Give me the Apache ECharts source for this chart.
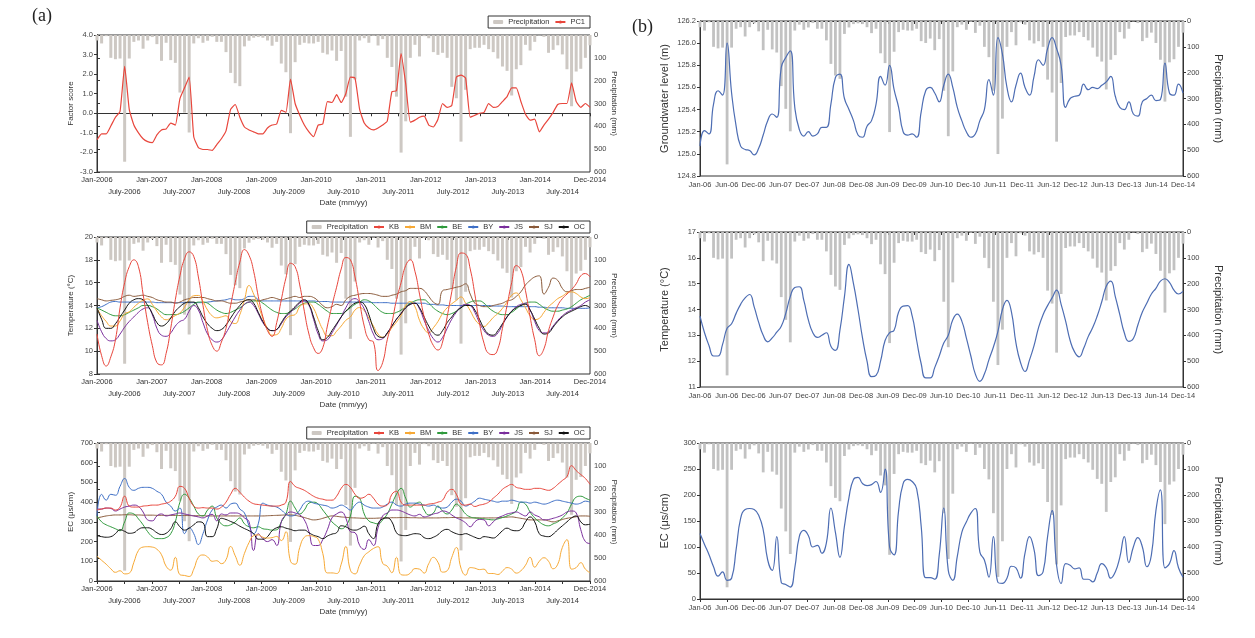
<!DOCTYPE html>
<html><head><meta charset="utf-8">
<script src="https://cdn.jsdelivr.net/npm/echarts@6/dist/echarts.min.js"></script>
<style>html,body{margin:0;padding:0;background:#fff}#c{width:1255px;height:638px}</style>
</head><body><div id="c"></div>
<script>
// ---------- DATA (monthly, Jan-2006 .. Dec-2014) ----------
const precip = [
 24, 37, 5, 100, 106, 103, 555, 103, 30, 24, 60, 24,
 9, 40, 113, 34, 110, 122, 252, 340, 427, 37, 14, 34,
 25, 8, 30, 30, 75, 166, 211, 224, 50, 25, 12, 9,
 12, 24, 47, 30, 125, 163, 430, 119, 43, 34, 37, 37,
 30, 78, 85, 68, 113, 70, 270, 446, 195, 24, 14, 34,
 3, 46, 18, 100, 140, 270, 515, 378, 100, 43, 94, 5,
 14, 75, 87, 78, 100, 227, 277, 467, 240, 62, 56, 56,
 43, 62, 75, 103, 138, 157, 265, 150, 132, 43, 68, 30,
 2, 8, 78, 65, 45, 85, 150, 312, 160, 148, 100, 45];

const pc1 = [
 -1.35, -1.05, -1.05, -0.65, -0.2, 0.1, 2.4, 0.2, -0.6, -1.0, -1.3, -1.45,
 -1.5, -1.1, -0.85, -0.8, -0.5, -0.6, 0.75, 1.3, 1.85, -1.2, -1.75, -1.85,
 -1.85, -1.9, -1.6, -1.3, -0.9, 0.2, 0.45, -0.2, -0.7, -0.85, -0.95, -1.05,
 -1.05, -0.75, -0.6, -0.55, 0.15, 0.05, 1.75, 0.5, -0.1, -0.6, -0.95, -1.2,
 -0.6, -0.55, 0.6, 0.55, 0.95, 0.55, 1.0, 1.85, 1.8, 0.2, -0.5, -0.75,
 -0.85, -0.75, -0.6, -0.4, 1.1, 1.15, 3.05, 1.5, -0.45, -0.35, -0.2, -0.15,
 -0.6, -0.7, -0.3, 0.5, 0.3, 0.4, 1.85, 1.95, 1.8, -0.2, -0.1, 0.0,
 0.05, 0.5, 0.3, 0.35, 0.6, 0.85, 1.3, 1.3, 0.6, -0.05, -0.35, -0.3,
 -0.95, -0.6, -0.3, 0.05, 0.45, 0.5, 0.5, 1.55, 0.6, 0.3, 0.5, 0.3];

const gwLevel = [
 125.07, 125.21, 125.18, 125.45, 125.57, 125.53, 126.0, 125.55, 125.25, 125.07, 125.04, 125.03,
 124.99, 125.05, 125.17, 125.3, 125.36, 125.33, 125.78, 125.87, 125.93, 125.42, 125.22, 125.16,
 125.2, 125.16, 125.18, 125.24, 125.24, 125.45, 125.69, 125.72, 125.5, 125.4, 125.3, 125.17,
 125.15, 125.25, 125.3, 125.45, 125.7, 125.62, 125.8, 125.58, 125.42, 125.2, 125.17, 125.18,
 125.15, 125.38, 125.57, 125.6, 125.55, 125.47, 125.62, 125.72, 125.6, 125.42, 125.3, 125.2,
 125.15, 125.18, 125.3, 125.4, 125.67, 125.53, 126.05, 125.9, 125.6, 125.47, 125.62, 125.73,
 125.6, 125.53, 125.7, 125.85, 125.8, 125.95, 126.05, 125.95, 125.8, 125.42, 125.5, 125.52,
 125.53, 125.63, 125.58, 125.6, 125.59, 125.62, 125.65, 125.7, 125.52, 125.42, 125.4, 125.47,
 125.36, 125.34, 125.47, 125.5, 125.53, 125.48, 125.49, 125.82, 125.55, 125.53, 125.63, 125.55];

// Temperature (deg C)
const tempKB = [
 11.5, 9.6, 8.7, 9.5, 11.0, 13.8, 16.0, 17.4, 18.0, 17.4, 15.0, 12.5,
 10.5, 9.0, 8.8, 9.8, 12.0, 14.5, 16.6, 18.1, 18.7, 18.3, 16.5, 14.0,
 11.8, 10.5, 10.0, 10.8, 12.0, 14.0, 16.0, 17.8, 18.9, 18.4, 17.0, 14.8,
 13.0, 11.8, 11.3, 12.5, 14.5, 16.4, 17.7, 17.4, 15.8, 13.5, 11.5, 10.3,
 9.8, 10.3, 12.2, 14.0, 15.6, 17.2, 18.2, 18.0, 16.5, 14.3, 12.2, 11.0,
 10.8, 8.3, 9.0, 11.0, 12.5, 14.5, 16.0, 17.5, 18.0, 17.0, 15.0, 13.0,
 11.5, 10.5, 10.1, 10.8, 13.0, 15.2, 17.4, 18.6, 18.5, 17.2, 15.0, 12.5,
 10.7, 9.8, 9.7, 10.2, 12.0, 14.0, 16.0, 17.5, 17.1, 15.3, 13.0, 11.0,
 9.6, 10.2, 11.8, 13.0, 14.0, 14.6, 15.0, 15.4, 15.9, 16.6, 16.8, 16.5];
const tempBM = [
 13.74, 13.1, 12.6, 12.2, 12.2, 12.65, 13.27, 13.45, 13.85, 14.2, 14.45, 14.58,
 14.1, 13.5, 13.0, 12.75, 12.9, 13.12, 13.35, 13.85, 14.5, 14.85, 14.88, 14.35,
 13.6, 13.1, 12.92, 13.0, 13.1, 12.58, 12.42, 13.2, 14.5, 15.75, 15.0, 14.0,
 12.9, 12.0, 11.4, 11.45, 12.0, 12.8, 13.1, 13.2, 13.9, 14.13, 14.15, 13.75,
 12.8, 11.9, 11.35, 11.35, 11.75, 12.2, 12.7, 13.0, 13.6, 13.82, 13.55, 12.9,
 12.2, 11.5, 11.22, 11.5, 12.05, 12.55, 13.15, 14.0, 14.35, 13.9, 12.7, 11.95,
 11.6, 12.05, 12.6, 13.3, 13.8, 14.15, 14.45, 14.75, 14.2, 13.55, 12.8, 12.35,
 12.17, 12.5, 12.95, 13.3, 13.75, 14.3, 14.9, 15.1, 14.5, 13.8, 13.1, 12.77,
 12.88, 13.4, 13.9, 14.25, 14.6, 14.82, 15.1, 15.19, 15.05, 14.75, 14.6, 14.7];
const tempBE = [
 13.8, 13.6, 13.4, 13.2, 13.1, 13.1, 13.2, 13.4, 13.6, 13.8, 14.0, 14.0,
 13.9, 13.7, 13.4, 13.2, 13.2, 13.2, 13.3, 13.5, 13.8, 14.1, 14.3, 14.3,
 14.2, 13.9, 13.6, 13.4, 13.3, 13.4, 13.6, 13.8, 14.1, 14.3, 14.4, 14.4,
 14.2, 13.9, 13.6, 13.4, 13.3, 13.3, 13.5, 13.7, 14.0, 14.2, 14.3, 14.3,
 14.1, 13.8, 13.5, 13.3, 13.3, 13.3, 13.5, 13.8, 14.1, 14.3, 14.5, 14.4,
 14.1, 13.7, 13.4, 13.3, 13.3, 13.4, 13.6, 13.9, 14.2, 14.4, 14.5, 14.5,
 14.2, 13.8, 13.5, 13.3, 13.2, 13.3, 13.5, 13.8, 14.1, 14.3, 14.4, 14.4,
 14.2, 13.8, 13.5, 13.3, 13.2, 13.2, 13.4, 13.7, 14.0, 14.2, 14.3, 14.3,
 14.1, 13.8, 13.6, 13.5, 13.5, 13.6, 13.7, 13.9, 14.2, 14.5, 14.7, 14.9];
const tempBY = [
 13.8, 13.9, 14.1, 14.3, 14.35, 14.3, 14.3, 14.3, 14.3, 14.3, 14.3, 14.3,
 14.3, 14.25, 14.25, 14.25, 14.25, 14.25, 14.25, 14.25, 14.25, 14.25, 14.25, 14.25,
 14.3, 14.35, 14.4, 14.45, 14.5, 14.6, 14.5, 14.5, 14.6, 14.8, 14.8, 14.5,
 14.4, 14.4, 14.4, 14.4, 14.4, 14.4, 14.4, 14.4, 14.4, 14.4, 14.4, 14.4,
 14.35, 14.35, 14.35, 14.3, 14.3, 14.3, 14.3, 14.3, 14.3, 14.3, 14.3, 14.3,
 14.25, 14.25, 14.25, 14.25, 14.2, 14.2, 14.2, 14.2, 14.2, 14.2, 14.2, 14.2,
 14.1, 14.1, 14.05, 14.05, 14.0, 14.0, 14.0, 14.0, 14.0, 14.0, 14.0, 14.0,
 14.0, 14.0, 13.95, 13.95, 13.95, 13.9, 13.9, 13.9, 13.9, 13.9, 13.9, 13.9,
 13.85, 13.85, 13.8, 13.8, 13.8, 13.8, 13.75, 13.75, 13.75, 13.75, 13.75, 13.8];
const tempJS = [
 12.7, 11.7, 11.1, 10.9, 11.0, 11.5, 12.1, 12.6, 13.0, 13.4, 13.7, 13.8,
 13.2, 12.0, 11.4, 11.3, 11.6, 12.2, 12.6, 12.8, 13.5, 14.0, 13.6, 12.5,
 11.5, 11.0, 10.8, 11.0, 11.6, 12.3, 13.0, 13.6, 14.1, 14.3, 14.0, 13.3,
 12.5, 12.0, 11.8, 11.9, 12.4, 13.0, 13.4, 13.8, 14.2, 14.4, 14.0, 12.8,
 11.5, 10.9, 11.0, 11.6, 12.3, 13.0, 13.8, 14.4, 14.6, 14.3, 13.7, 12.6,
 11.5, 11.0, 11.1, 11.6, 12.2, 12.8, 13.3, 13.8, 14.1, 14.2, 13.7, 12.7,
 11.8, 11.1, 10.8, 11.2, 12.0, 12.8, 13.4, 13.9, 14.1, 14.0, 13.4, 12.5,
 11.8, 11.4, 11.3, 11.6, 12.3, 13.0, 13.5, 13.9, 14.1, 14.2, 13.6, 12.6,
 11.8, 11.6, 11.7, 12.2, 12.7, 13.1, 13.4, 13.6, 13.8, 14.0, 14.3, 14.5];
const tempSJ = [
 14.6, 14.5, 14.4, 14.45, 14.5, 14.6, 14.8, 14.9, 14.8, 14.85, 14.9, 14.8,
 14.7, 14.5, 14.4, 14.3, 14.3, 14.2, 14.3, 14.5, 14.6, 14.7, 14.7, 14.7,
 14.6, 14.5, 14.4, 14.4, 14.3, 14.2, 14.2, 14.3, 14.4, 14.5, 14.5, 14.4,
 14.5, 14.6, 14.7, 14.6, 14.5, 14.6, 14.7, 14.8, 14.7, 14.8, 14.8, 14.7,
 14.4, 14.0, 13.8, 13.9, 14.1, 14.0, 14.5, 14.8, 14.9, 15.0, 15.05, 15.05,
 15.0, 14.9, 14.8, 14.8, 14.9, 15.0, 15.2, 15.3, 15.5, 15.5, 15.5, 15.3,
 14.8, 14.3, 14.1, 15.3, 15.4, 15.5, 15.6, 15.7, 15.9, 15.0, 14.2, 14.0,
 13.9, 13.9, 14.0, 14.1, 14.2, 14.4, 14.5, 14.8, 15.2, 15.8, 16.2, 16.5,
 16.6, 15.0, 15.6, 16.4, 16.2, 15.5, 15.2, 15.3, 15.4, 15.4, 15.5, 15.6];
const tempOC = [
 13.8, 12.8, 12.0, 12.0, 12.4, 13.0, 13.6, 14.2, 14.5, 14.6, 14.5, 14.0,
 13.3, 12.5, 12.2, 12.4, 12.9, 13.5, 13.9, 14.2, 14.3, 14.3, 13.8, 13.0,
 12.4, 12.0, 11.8, 11.9, 12.3, 12.9, 13.5, 14.0, 14.4, 14.5, 14.2, 13.4,
 12.6, 12.0, 11.8, 11.9, 12.5, 13.1, 13.5, 13.9, 14.3, 14.5, 14.1, 13.0,
 11.8, 11.0, 11.2, 11.8, 12.4, 13.0, 13.5, 13.9, 14.2, 14.3, 14.1, 13.2,
 12.0, 11.3, 11.2, 11.6, 12.2, 12.8, 13.3, 13.8, 14.1, 14.2, 13.8, 13.0,
 12.2, 11.6, 11.4, 11.8, 12.5, 13.0, 13.5, 13.8, 14.0, 14.0, 13.6, 12.8,
 12.0, 11.5, 11.4, 11.8, 12.4, 13.0, 13.5, 13.8, 14.0, 14.1, 13.6, 12.8,
 12.0, 11.5, 11.6, 12.1, 12.6, 13.0, 13.3, 13.5, 13.7, 13.9, 14.0, 13.8];

// EC (uS/cm)
const ecKB = [
 360, 365, 370, 370, 360, 375, 430, 380, 375, 375, 380, 382,
 385, 385, 390, 395, 405, 430, 480, 470, 420, 380, 370, 372,
 370, 370, 365, 375, 400, 440, 470, 450, 425, 405, 392, 388,
 385, 382, 380, 380, 385, 400, 505, 480, 470, 460, 445, 430,
 420, 415, 410, 410, 430, 470, 490, 475, 440, 420, 425, 440,
 420, 390, 380, 385, 440, 455, 400, 385, 385, 385, 385, 385,
 390, 393, 400, 410, 450, 465, 440, 390, 385, 390, 378, 385,
 390, 400, 420, 440, 465, 480, 490, 475, 470, 465, 465, 470,
 470, 465, 460, 470, 490, 510, 530, 585, 560, 540, 520, 490];
const ecBM = [
 126, 105, 85, 62, 44, 52, 36, 40, 95, 155, 172, 174,
 172, 161, 133, 75, 55, 120, 32, 28, 23, 60, 120, 132,
 122, 100, 103, 88, 108, 175, 128, 80, 140, 195, 230, 234,
 222, 218, 220, 226, 205, 250, 100, 85, 170, 222, 230, 226,
 212, 140, 41, 41, 38, 85, 175, 55, 36, 82, 128, 148,
 165, 174, 90, 75, 42, 120, 32, 30, 40, 63, 60, 40,
 88, 120, 95, 45, 52, 120, 170, 65, 30, 68, 65, 58,
 60, 38, 38, 33, 50, 68, 60, 40, 52, 80, 120, 70,
 100, 118, 100, 62, 85, 170, 210, 60, 68, 93, 60, 42];
const ecBE = [
 330, 300, 285, 275, 265, 255, 300, 345, 340, 315, 285, 250,
 225, 215, 215, 220, 240, 300, 400, 440, 420, 380, 340, 330,
 360, 380, 320, 290, 280, 285, 300, 320, 290, 275, 270, 275,
 265, 262, 258, 260, 300, 340, 405, 370, 340, 360, 395, 400,
 390, 360, 330, 300, 280, 265, 280, 330, 430, 420, 340, 305,
 295, 290, 310, 340, 390, 440, 470, 420, 375, 390, 400, 360,
 335, 345, 380, 355, 340, 360, 390, 370, 340, 325, 320, 318,
 315, 312, 310, 315, 322, 330, 340, 355, 400, 390, 350, 320,
 300, 285, 280, 290, 300, 320, 345, 390, 425, 430, 420, 410];
const ecBY = [
 330, 440, 410, 440, 435, 480, 520, 475, 460, 470, 475, 475,
 470, 455, 440, 400, 380, 355, 370, 240, 270, 240, 185, 240,
 310, 360, 375, 385, 370, 390, 395, 365, 345, 280, 240, 290,
 395, 385, 380, 375, 360, 340, 330, 335, 360, 395, 405, 395,
 390, 385, 380, 370, 375, 385, 375, 360, 385, 400, 385, 375,
 370, 370, 375, 390, 400, 385, 380, 390, 395, 395, 390, 385,
 380, 385, 375, 370, 375, 400, 415, 405, 380, 390, 405, 420,
 415, 410, 405, 400, 405, 405, 410, 405, 400, 400, 395, 400,
 395, 390, 395, 405, 410, 405, 400, 395, 390, 395, 405, 400];
const ecJS = [
 365, 365, 370, 368, 355, 365, 375, 380, 385, 378, 350, 310,
 305, 330, 340, 330, 335, 340, 345, 340, 335, 330, 325, 320,
 330, 338, 305, 340, 335, 345, 345, 340, 320, 300, 155, 240,
 215, 200, 210, 180, 300, 335, 350, 345, 335, 310, 250, 180,
 180, 210, 260, 320, 340, 350, 320, 250, 245, 180, 160, 210,
 180, 270, 330, 345, 360, 360, 355, 345, 335, 330, 338, 325,
 330, 340, 345, 355, 350, 335, 320, 310, 295, 275, 300, 312,
 310, 280, 300, 320, 330, 340, 345, 350, 340, 330, 350, 335,
 325, 310, 312, 318, 325, 335, 350, 355, 345, 260, 200, 190];
const ecSJ = [
 320, 325, 330, 333, 335, 335, 336, 336, 335, 335, 334, 334,
 334, 333, 333, 333, 333, 333, 332, 332, 332, 331, 331, 331,
 330, 330, 330, 330, 330, 330, 330, 330, 330, 330, 330, 330,
 330, 331, 332, 333, 334, 335, 335, 333, 328, 322, 315, 310,
 312, 318, 325, 330, 328, 325, 323, 321, 320, 319, 318, 318,
 318, 319, 320, 320, 321, 321, 322, 322, 321, 321, 320, 320,
 320, 320, 320, 321, 321, 322, 322, 321, 320, 320, 320, 320,
 320, 320, 320, 321, 322, 324, 325, 322, 318, 314, 310, 310,
 310, 310, 305, 300, 305, 312, 318, 322, 326, 330, 330, 328];
const ecOC = [
 230, 225, 222, 225, 240, 260, 252, 242, 245, 262, 270, 270,
 262, 245, 236, 242, 265, 300, 275, 258, 268, 285, 300, 295,
 225, 225, 265, 318, 312, 302, 292, 278, 266, 255, 240, 212,
 212, 225, 255, 270, 275, 268, 262, 255, 258, 258, 245, 232,
 225, 215, 228, 238, 245, 280, 275, 262, 258, 265, 278, 240,
 215, 290, 315, 320, 300, 245, 232, 230, 235, 240, 238, 220,
 215, 222, 235, 255, 262, 250, 240, 235, 240, 232, 222, 215,
 225, 222, 218, 232, 255, 268, 258, 255, 262, 300, 325, 300,
 240, 228, 225, 238, 260, 280, 300, 320, 330, 300, 285, 288];

// x-axis tick labels (evenly spaced along the date axis)
const labelsA = ['Jan-2006','July-2006','Jan-2007','July-2007','Jan-2008','July-2008','Jan-2009','July-2009',
 'Jan-2010','July-2010','Jan-2011','July-2011','Jan-2012','July-2012','Jan-2013','July-2013','Jan-2014','July-2014','Dec-2014'];
const labelsB = ['Jan-06','Jun-06','Dec-06','Jun-07','Dec-07','Jun-08','Dec-08','Jun-09','Dec-09','Jun-10',
 'Dec-10','Jun-11','Dec-11','Jun-12','Dec-12','Jun-13','Dec-13','Jun-14','Dec-14'];

// ---------- CHART ----------
const FONT = '"Liberation Sans", Arial, sans-serif';
const XMAX = precip.length - 1;
const xy = arr => arr.map((v, i) => [i, v]);
const nLab = labelsA.length;
const tickPos = labelsA.map((_, k) => k * XMAX / (nLab - 1));
const tickPosRow1 = tickPos.filter((_, k) => k % 2 === 0);
const tickPosRow2 = tickPos.filter((_, k) => k % 2 === 1);
const labelAt = (labels, v) => labels[Math.round(v * (nLab - 1) / XMAX)];

const gridsPos = [
  {left: 97, top: 35, width: 493, height: 137},
  {left: 97, top: 237, width: 493, height: 137},
  {left: 97, top: 443, width: 493, height: 138},
  {left: 700, top: 21, width: 483, height: 155},
  {left: 700, top: 232, width: 483, height: 155},
  {left: 700, top: 443, width: 483, height: 156}
];
const grid = gridsPos.map(g => Object.assign({show: true, borderColor: '#333', borderWidth: 1, backgroundColor: 'transparent'}, g));

function xAxisA(gi) {
  return {
    type: 'value', gridIndex: gi, min: 0, max: XMAX,
    axisLine: {lineStyle: {color: '#333'}},
    axisTick: {customValues: tickPos, length: 3, lineStyle: {color: '#333'}},
    splitLine: {show: false},
    axisLabel: {
      customValues: tickPosRow1, showMinLabel: true, showMaxLabel: true, hideOverlap: false,
      fontSize: 7.5, color: '#333', margin: 4, fontFamily: FONT,
      formatter: v => labelAt(labelsA, v)
    }
  };
}
function xAxisA2(gi) {
  return {
    type: 'value', gridIndex: gi, min: 0, max: XMAX, position: 'bottom',
    name: 'Date (mm/yy)', nameLocation: 'middle', nameGap: 27,
    nameTextStyle: {fontSize: 8, color: '#333', fontFamily: FONT},
    axisLine: {show: false}, axisTick: {show: false}, splitLine: {show: false},
    axisLabel: {
      customValues: tickPosRow2, showMinLabel: true, showMaxLabel: true, hideOverlap: false,
      fontSize: 7.5, color: '#333', margin: 16, fontFamily: FONT,
      formatter: v => labelAt(labelsA, v)
    }
  };
}
function xAxisB(gi) {
  return {
    type: 'value', gridIndex: gi, min: 0, max: XMAX,
    axisLine: {lineStyle: {color: '#333'}},
    axisTick: {customValues: tickPos, length: 3, lineStyle: {color: '#333'}},
    splitLine: {show: false},
    axisLabel: {
      customValues: tickPos, showMinLabel: true, showMaxLabel: true, hideOverlap: false,
      fontSize: 7.5, color: '#444', margin: 5, fontFamily: FONT,
      formatter: v => labelAt(labelsB, v)
    }
  };
}
function leftAxis(gi, min, max, interval, name, fmt, big) {
  return {
    type: 'value', gridIndex: gi, position: 'left', min, max, interval,
    name, nameLocation: 'middle', nameGap: big ? 30 : 22, nameRotate: 90,
    nameTextStyle: {fontSize: big ? 11 : 8, color: '#333', fontFamily: FONT},
    axisLine: {show: true, lineStyle: {color: '#333'}},
    axisTick: {show: true, length: 3, lineStyle: {color: '#333'}},
    splitLine: {show: false},
    axisLabel: {fontSize: 7.5, color: '#444', margin: 4, fontFamily: FONT, formatter: fmt}
  };
}
function rightAxis(gi, big) {
  return {
    type: 'value', gridIndex: gi, position: 'right', min: 0, max: 600, interval: 100, inverse: true,
    name: 'Precipitation (mm)', nameLocation: 'middle', nameGap: big ? 30 : 20, nameRotate: -90,
    nameTextStyle: {fontSize: big ? 11 : 8, color: '#333', fontFamily: FONT},
    axisLine: {show: true, lineStyle: {color: '#333'}},
    axisTick: {show: true, length: 3, lineStyle: {color: '#333'}},
    splitLine: {show: false},
    axisLabel: {fontSize: 7.5, color: '#444', margin: 4, fontFamily: FONT}
  };
}

const xAxis = [xAxisA(0), xAxisA(1), xAxisA(2), xAxisB(3), xAxisB(4), xAxisB(5),
               xAxisA2(0), xAxisA2(1), xAxisA2(2)];
const yAxis = [
  leftAxis(0, -3, 4, 1, 'Factor score', v => v.toFixed(1), false), rightAxis(0, false),
  leftAxis(1, 8, 20, 2, 'Temperature (°C)', null, false), rightAxis(1, false),
  leftAxis(2, 0, 700, 100, 'EC (μs/cm)', null, false), rightAxis(2, false),
  leftAxis(3, 124.8, 126.2, 0.2, 'Groundwater level (m)', v => v.toFixed(1), true), rightAxis(3, true),
  leftAxis(4, 11, 17, 1, 'Temperature (°C)', null, true), rightAxis(4, true),
  leftAxis(5, 0, 300, 50, 'EC (μs/cm)', null, true), rightAxis(5, true)
];

const COL = {P: '#cdc8c3', PB: '#c2c2c2', KB: '#e8463c', BM: '#f7a935', BE: '#2f9a3c', BY: '#3e6fc6',
             JS: '#7a2d9c', SJ: '#8a5a3a', OC: '#111111', PC1: '#e8463c', B: '#4d6db3'};

const series = [];
function bars(gi, color, w) {
  series.push({type: 'bar', name: 'Precipitation', xAxisIndex: gi, yAxisIndex: gi * 2 + 1,
    data: xy(precip), barWidth: w, itemStyle: {color}, silent: true, z: 1});
}
function line(gi, name, arr, color, width, smooth) {
  series.push({type: 'line', name, xAxisIndex: gi, yAxisIndex: gi * 2, data: xy(arr),
    symbol: 'none', smooth: smooth, lineStyle: {color, width}, itemStyle: {color}, z: 3});
}
bars(0, COL.P, 3); bars(1, COL.P, 3); bars(2, COL.P, 3);
line(0, 'PC1', pc1, COL.PC1, 1.2, 0.15);
const tSets = [['BY', tempBY], ['SJ', tempSJ], ['BE', tempBE], ['BM', tempBM], ['JS', tempJS], ['OC', tempOC], ['KB', tempKB]];
tSets.forEach(([n, a]) => line(1, n, a, COL[n], 1, 0.5));
const eSets = [['SJ', ecSJ], ['BE', ecBE], ['BY', ecBY], ['JS', ecJS], ['OC', ecOC], ['BM', ecBM], ['KB', ecKB]];
eSets.forEach(([n, a]) => line(2, n, a, COL[n], 1, 0.5));
bars(3, COL.PB, 2.8); bars(4, COL.PB, 2.8); bars(5, COL.PB, 2.8);
line(3, 'Groundwater level', gwLevel, COL.B, 1.2, 0.5);
line(4, 'Temperature', tempBM, COL.B, 1.2, 0.5);
line(5, 'EC', ecBM, COL.B, 1.2, 0.5);

const legBase = {
  orient: 'horizontal', right: 665, itemWidth: 10, itemHeight: 4, itemGap: 5,
  borderColor: '#333', borderWidth: 1, padding: [2, 5], backgroundColor: '#fff',
  textStyle: {fontSize: 7.5, color: '#333', fontFamily: FONT}, selectedMode: false
};
const legItems = ['Precipitation', 'KB', 'BM', 'BE', 'BY', 'JS', 'SJ', 'OC'];
const legend = [
  Object.assign({}, legBase, {top: 16, data: ['Precipitation', 'PC1']}),
  Object.assign({}, legBase, {top: 221, data: legItems}),
  Object.assign({}, legBase, {top: 427, data: legItems})
];

const chart = echarts.init(document.getElementById('c'), null, {renderer: 'canvas'});
chart.setOption({
  animation: false,
  backgroundColor: '#fff',
  textStyle: {fontFamily: FONT},
  grid, xAxis, yAxis, series, legend,
  graphic: [
    {type: 'text', left: 32, top: 7, style: {text: '(a)', font: '18px "Liberation Serif", "DejaVu Serif", serif', fill: '#222'}},
    {type: 'text', left: 632, top: 18, style: {text: '(b)', font: '18px "Liberation Serif", "DejaVu Serif", serif', fill: '#222'}}
  ]
});
</script></body></html>
